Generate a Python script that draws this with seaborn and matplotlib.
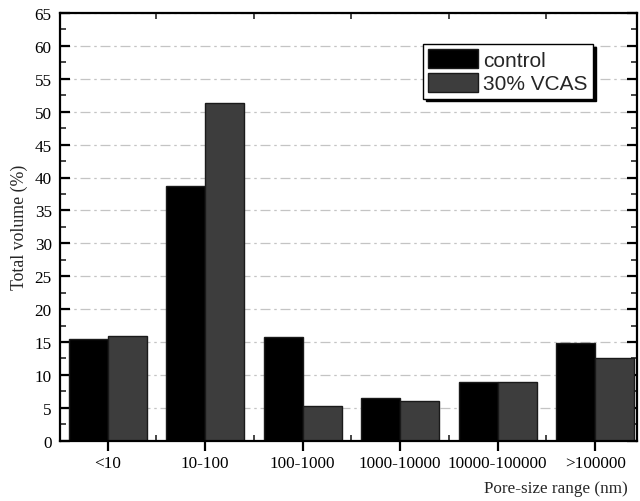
import numpy as np
import pandas as pd
import seaborn as sns
import matplotlib.pyplot as plt
from matplotlib.ticker import MultipleLocator, FixedLocator

sns.set_theme(style="ticks")
plt.rcParams.update({"font.family": ["Liberation Serif", "DejaVu Serif"],
                     "font.size": 12.3})

ranges = ["<10", "10-100", "100-1000", "1000-10000", "10000-100000", ">100000"]
control = [15.4, 38.7, 15.7, 6.5, 8.9, 14.9]
vcas = [15.9, 51.3, 5.3, 6.0, 8.9, 12.6]
groups = ["control", "30% VCAS"]

df = pd.DataFrame({
    "range": ranges * 2,
    "volume": control + vcas,
    "group": [groups[0]] * len(ranges) + [groups[1]] * len(ranges),
})

fig = plt.figure(figsize=(6.4, 5.02), dpi=100)
ax = fig.add_axes([60 / 640, 1 - 441.7 / 502, 577 / 640, 427.7 / 502])

sns.barplot(data=df, x="range", y="volume", hue="group", order=ranges,
            hue_order=groups, palette=["#000000", "#3d3d3d"], width=0.8,
            edgecolor="#1a1a1a", linewidth=1.0, ax=ax, legend=True)

ax.set_ylim(0, 65)
ax.set_xlim(-0.49, 5.43)
ax.yaxis.set_major_locator(MultipleLocator(5))
ax.yaxis.set_minor_locator(MultipleLocator(2.5))
ax.xaxis.set_minor_locator(FixedLocator(np.arange(0.5, 5.5, 1)))

ax.grid(axis="y", which="major", color="#c4c4c4", linewidth=0.9,
        linestyle=(0, (8, 3, 2, 3)))
ax.set_axisbelow(True)

for s in ax.spines.values():
    s.set_linewidth(1.6)
    s.set_color("black")

ax.tick_params(axis="y", which="major", direction="in", length=7, width=1.6,
               left=True, right=True, labelsize=12.3, pad=6, colors="black")
ax.tick_params(axis="y", which="minor", direction="in", length=4, width=1.2,
               left=True, right=True)
ax.tick_params(axis="x", which="major", direction="out", length=7, width=1.6,
               top=False, bottom=True, labelsize=12.3, colors="black")
ax.tick_params(axis="x", which="minor", direction="in", length=4, width=1.2,
               top=True, bottom=True)
ax.tick_params(labelcolor="black")

ax.set_ylabel("Total volume (%)", fontsize=12.8, labelpad=5)
ax.set_xlabel("Pore-size range (nm)", fontsize=12.3, ha="right", va="center")
ax.xaxis.set_label_coords(0.984, -0.111)

handles, labels = ax.get_legend_handles_labels()
leg = ax.legend(handles, labels, loc="upper right",
                bbox_to_anchor=(0.924, 0.927), borderaxespad=0,
                prop={"family": ["Liberation Sans", "DejaVu Sans"], "size": 15},
                frameon=True, fancybox=False, edgecolor="black", framealpha=1,
                shadow={"color": "black", "alpha": 1},
                handlelength=2.4, handleheight=1.0, handletextpad=0.25,
                labelspacing=0.15, borderpad=0.25)
leg.get_frame().set_linewidth(1.0)

fig.savefig("out.png", dpi=100)
